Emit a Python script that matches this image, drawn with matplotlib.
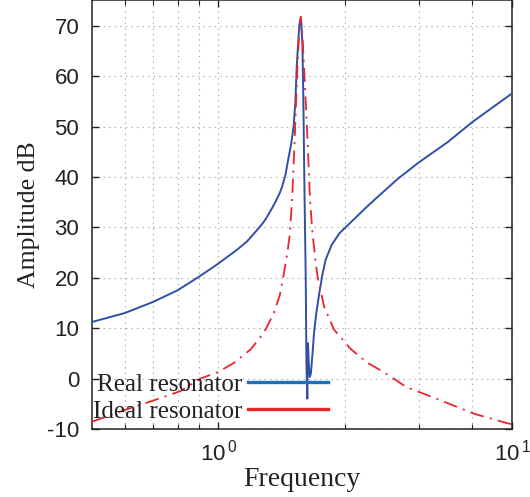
import matplotlib
matplotlib.use("Agg")
import matplotlib.pyplot as plt
from matplotlib.lines import Line2D
from matplotlib.ticker import FixedLocator, NullFormatter, FixedFormatter

plt.rcParams['lines.scale_dashes'] = False

# Real resonator (blue)
real_freq = [0.5, 0.6, 0.7, 0.8, 0.9, 1.0, 1.11, 1.17, 1.22, 1.27, 1.30, 1.34, 1.37, 1.40,
             1.42, 1.445, 1.465, 1.49, 1.51, 1.525, 1.536, 1.548, 1.558, 1.566, 1.575,
             1.585, 1.593, 1.600, 1.607, 1.614, 1.620, 1.628, 1.632, 1.636, 1.642, 1.650,
             1.660, 1.675, 1.69, 1.71, 1.74, 1.77, 1.80, 1.86, 1.94, 2.03, 2.12, 2.25,
             2.39, 2.67, 3.0, 3.51, 4.02, 5.0]
real_db = [11.2, 13.0, 15.2, 17.5, 20.2, 22.8, 25.6, 27.2, 28.9, 30.6, 31.8, 33.7, 35.2, 36.8,
           38.2, 40.5, 43.3, 46.5, 49.9, 55.0, 61.8, 66.5, 70.0, 71.2, 70.5,
           66.0, 55.2, 42.0, 30.4, 19.6, 3.0, -4.0, 7.0, 6.0, 2.5, 0.3,
           1.0, 5.0, 9.3, 13.0, 17.2, 20.8, 23.6, 26.5, 28.8, 30.4, 31.9, 34.0,
           36.0, 39.6, 42.9, 46.9, 50.9, 56.6]

# Ideal resonator (red, dash-dot)
ideal_freq = [0.5, 0.607, 0.716, 0.813, 0.908, 1.0, 1.089, 1.194, 1.284, 1.356, 1.40,
              1.432, 1.46, 1.480, 1.50, 1.519, 1.542, 1.558, 1.57, 1.583, 1.599, 1.63,
              1.652, 1.675, 1.70, 1.721, 1.784, 1.884, 2.068, 2.264, 2.47, 2.80, 3.37,
              4.06, 4.83, 5.0]
ideal_db = [-8.6, -6.1, -4.1, -2.5, 0.0, 1.3, 3.1, 5.8, 9.1, 13.0, 16.5,
            20.9, 25.0, 28.8, 36.7, 47.3, 61.8, 69.0, 71.8, 69.0, 61.8, 47.3,
            35.4, 28.8, 23.8, 20.3, 14.3, 9.7, 5.8, 3.1, 1.3, -1.7, -4.3,
            -7.0, -8.8, -9.1]

legend_labels = ["Real resonator", "Ideal resonator"]
y_ticks = [-10, 0, 10, 20, 30, 40, 50, 60, 70]
x_major = [1.0, 5.0]
x_major_labels = [r"$\mathregular{10^{\,0}}$", r"$\mathregular{10^{\,1}}$"]
x_minor = [0.6, 0.7, 0.8, 0.9, 2, 3, 4]

fig = plt.figure(figsize=(5.30, 4.97), dpi=100)
ax = fig.add_axes([0.173, 0.137, 0.7936, 0.862])

ax.plot(real_freq, real_db, color="#3050a8", lw=1.4, zorder=3)
ax.plot(ideal_freq, ideal_db, color="#e8262b", lw=1.3,
        linestyle=(0, (10, 4.5, 1.5, 4.5)), zorder=3)

ax.set_xscale("log")
ax.set_xlim(0.5, 5.0)
ax.set_ylim(-10, 75)

ax.xaxis.set_major_locator(FixedLocator(x_major))
ax.xaxis.set_major_formatter(FixedFormatter(x_major_labels))
ax.xaxis.set_minor_locator(FixedLocator(x_minor))
ax.xaxis.set_minor_formatter(NullFormatter())
ax.set_yticks(y_ticks)
ax.set_yticklabels([str(v) for v in y_ticks])

ax.grid(True, which="both", axis="x", linestyle=(0, (1, 3)), color="#a8a8a8", lw=0.8)
ax.grid(True, which="major", axis="y", linestyle=(0, (1, 3)), color="#a8a8a8", lw=0.8)
ax.set_axisbelow(True)

for lab in ax.get_yticklabels() + ax.get_xticklabels():
    lab.set_fontfamily("Liberation Sans")
    lab.set_fontsize(16)
    lab.set_color("#222222")

ax.tick_params(axis="both", which="major", direction="in", length=5, width=1,
               top=True, right=True, color="#222222")
ax.tick_params(axis="x", which="minor", direction="in", length=3.5, width=0.8,
               top=True, color="#222222")
ax.tick_params(axis="y", which="major", pad=9)
ax.tick_params(axis="x", which="major", pad=8)

for s in ax.spines.values():
    s.set_linewidth(1.1)
    s.set_color("#222222")

ax.set_xlabel("Frequency", fontfamily="Liberation Serif", fontsize=20, color="#222222",
              labelpad=1)
ax.set_ylabel("Amplitude dB", fontfamily="Liberation Serif", fontsize=18.5, color="#222222",
              labelpad=5)

handles = [Line2D([], [], color="#1f6fc0", lw=2.4),
           Line2D([], [], color="#e8262b", lw=2.4)]
leg = ax.legend(handles, legend_labels, loc="upper left", bbox_to_anchor=(0.004, 0.13),
                frameon=False, markerfirst=False, handlelength=3.2, handletextpad=0.2,
                labelspacing=0.2, borderpad=0, borderaxespad=0,
                prop={"family": "Liberation Serif", "size": 18})
for t in leg.get_texts():
    t.set_color("#222222")

fig.savefig("out.png", dpi=100)
